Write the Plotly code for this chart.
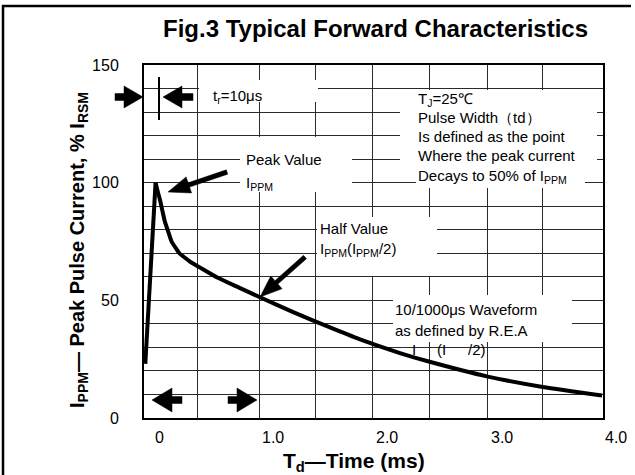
import math
import plotly.graph_objects as go

# ---------------- data ----------------
time_ms = [-0.12, -0.03, -0.01, 0.01, 0.03, 0.05, 0.08, 0.11, 0.15, 0.18, 0.23,
           0.27, 0.36, 0.51, 0.71, 0.88, 1.17, 1.47, 1.76, 2.11, 2.37, 2.88, 3.36, 3.88]
current_pct = [23, 100, 96, 92.4, 88, 83.7, 79.3, 75, 72, 69.9, 68,
               66.5, 63.9, 59.7, 55.2, 51.4, 45.1, 39, 33.4, 27.6, 23.9, 17.6, 13.2, 9.6]

x_tick_vals = [0, 1, 2, 3, 4]
x_tick_text = ["0", "1.0", "2.0", "3.0", "4.0"]
y_tick_vals = [0, 50, 100, 150]
y_tick_text = ["0", "50", "100", "150"]
x_grid_vals = [0.34, 0.88, 1.37, 1.87, 2.37, 2.88, 3.36]

# ---------------- geometry ----------------
W, H = 635, 475
L, R, T, B = 144, 32, 65, 57
PW, PH = W - L - R, H - T - B
X0PX, PXPERMS = 159.0, 114.2          # pixel of t=0 and px per ms
PXPERUNIT = PH / 150.0
XR = [(L - X0PX) / PXPERMS, (W - R - X0PX) / PXPERMS]


def px(p):   # pixel x -> paper
    return (p - L) / PW


def py(p):   # pixel y -> paper
    return (H - B - p) / PH


def tx(p):   # pixel x -> data x
    return (p - X0PX) / PXPERMS


def vy(p):   # pixel y -> data y
    return (H - B - p) / PXPERUNIT


FONT = "Liberation Sans, Arial, sans-serif"
GRID = "#2a2a2a"

peak = current_pct.index(max(current_pct))
fig = go.Figure()
# rising edge (straight) and decay (smooth), both from the same series
fig.add_trace(go.Scatter(x=time_ms[:peak + 1], y=current_pct[:peak + 1], mode="lines",
                         line=dict(color="black", width=4),
                         showlegend=False, hoverinfo="skip"))
fig.add_trace(go.Scatter(x=time_ms[peak:], y=current_pct[peak:], mode="lines",
                         line=dict(color="black", width=4, shape="spline", smoothing=0.6),
                         showlegend=False, hoverinfo="skip"))

shapes = []
# white boxes behind texts (hide gridlines)
boxes = [(199, 318, 80, 102), (240, 352, 137, 192), (317, 437, 217, 276),
         (400, 597, 90, 170), (416, 585, 170, 188), (393, 572, 295, 342)]
for bx0, bx1, by0, by1 in boxes:
    shapes.append(dict(type="rect", xref="x", yref="y", layer="between",
                       x0=tx(bx0), x1=tx(bx1), y0=vy(by1), y1=vy(by0),
                       fillcolor="white", line=dict(width=0)))


def arrow(x0, y0, x1, y1, sw, hl, hw):
    dx, dy = x1 - x0, y1 - y0
    ln = math.hypot(dx, dy)
    ux, uy = dx / ln, dy / ln
    nx, ny = -uy, ux
    bx, by = x1 - ux * hl, y1 - uy * hl
    pts = [(x0 + nx * sw / 2, y0 + ny * sw / 2), (bx + nx * sw / 2, by + ny * sw / 2),
           (bx + nx * hw / 2, by + ny * hw / 2), (x1, y1),
           (bx - nx * hw / 2, by - ny * hw / 2), (bx - nx * sw / 2, by - ny * sw / 2),
           (x0 - nx * sw / 2, y0 - ny * sw / 2)]
    path = "M " + " L ".join(f"{px(a):.5f},{py(b):.5f}" for a, b in pts) + " Z"
    return dict(type="path", xref="paper", yref="paper", layer="above", path=path,
                fillcolor="black", line=dict(color="black", width=0.5))


shapes += [
    arrow(115, 97, 143, 97, 7, 19, 22),
    arrow(193, 97, 163, 97, 7, 19, 22),
    arrow(182, 400, 152, 400, 7, 20, 24),
    arrow(228, 400, 257, 400, 7, 20, 24),
    arrow(227, 172, 168, 192, 4.5, 22, 17),
    arrow(305, 257, 260, 297, 4.5, 22, 17),
]
# t_r marker line
shapes.append(dict(type="line", xref="paper", yref="paper", layer="above",
                   x0=px(159), x1=px(159), y0=py(77), y1=py(120),
                   line=dict(color="black", width=2)))
# outer frame (left and top edges of the surrounding table cell)
frame_path = (f"M {px(3):.5f},{py(480):.5f} L {px(3):.5f},{py(6):.5f} "
              f"L {px(631):.5f},{py(6):.5f}")
shapes.append(dict(type="path", xref="paper", yref="paper", layer="above",
                   path=frame_path, line=dict(color="black", width=2.5)))

ann = []


def text(t, x, y, size=15, anchor="left", bold=False, angle=0):
    if bold:
        t = "<b>" + t + "</b>"
    ann.append(dict(text=t, x=px(x), y=py(y), xref="paper", yref="paper",
                    xanchor=anchor, yanchor="middle", showarrow=False,
                    textangle=angle, font=dict(family=FONT, size=size, color="black")))


# x tick labels, placed through the x-axis scale (fraction of the axis range)
for v, s in zip(x_tick_vals, x_tick_text):
    frac = (v - XR[0]) / (XR[1] - XR[0])
    ann.append(dict(text=s, x=frac, y=py(437), xref="paper", yref="paper",
                    xanchor="center", yanchor="middle", showarrow=False,
                    font=dict(family=FONT, size=16, color="black")))

text("Fig.3 Typical Forward Characteristics", 375, 29, 24, "center", True)
text("T<sub>d</sub>—Time (ms)", 354, 462, 21, "center", True)
text("I<sub>PPM</sub>— Peak Pulse Current, % I<sub>RSM</sub>", 78, 250, 20, "center", True, -90)
text("t<sub>r</sub>=10μs", 211, 96)
text("Peak Value", 244, 159)
text("I<sub>PPM</sub>", 244, 183)
text("Half Value", 318, 228)
text("I<sub>PPM</sub>(I<sub>PPM</sub>/2)", 318, 249)
for s, yy in [("T<sub>J</sub>=25℃", 99), ("Pulse Width（td）", 117),
              ("Is defined as the point", 136), ("Where the peak current", 155),
              ("Decays to 50% of I<sub>PPM</sub>", 176)]:
    text(s, 416, yy)
text("10/1000μs Waveform", 393, 309)
text("as defined by R.E.A", 393, 330)
text("I", 410, 349)
text("(I", 435, 349)
text("/2)", 466, 349)

fig.update_layout(
    width=W, height=H, margin=dict(l=L, r=R, t=T, b=B, pad=0),
    paper_bgcolor="white", plot_bgcolor="white",
    showlegend=False,
    xaxis=dict(range=XR, tickmode="array", tickvals=x_grid_vals,
               showticklabels=False, ticks="",
               showgrid=True, gridcolor=GRID, gridwidth=1, zeroline=False,
               showline=True, mirror=True, linecolor="black", linewidth=2,
               fixedrange=True),
    yaxis=dict(range=[0, 150], tickmode="array", tickvals=y_tick_vals, ticktext=y_tick_text,
               ticks="outside", ticklen=20, tickcolor="rgba(0,0,0,0)",
               tickfont=dict(family=FONT, size=16, color="black"),
               showgrid=True, gridcolor=GRID, gridwidth=1, zeroline=False,
               minor=dict(tickmode="linear", tick0=0, dtick=10, showgrid=True,
                          gridcolor=GRID, gridwidth=1, ticks=""),
               showline=True, mirror=True, linecolor="black", linewidth=2,
               fixedrange=True),
    shapes=shapes, annotations=ann,
)

fig.write_html("out.html", config={"displayModeBar": False})
